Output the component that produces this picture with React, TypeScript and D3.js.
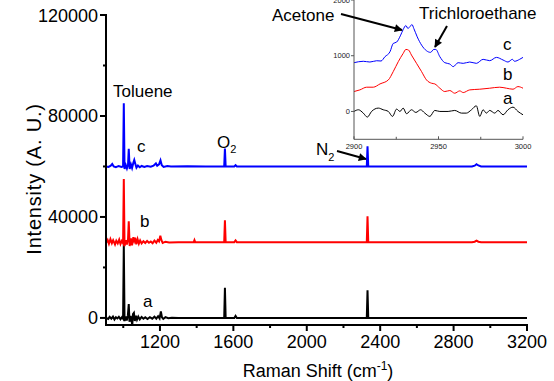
import React from "react";
import * as d3 from "d3";

// ---------- DATA ----------
const seriesLabels = ["a", "b", "c"];
const seriesColors = ["#000000", "#ff0000", "#0000ff"];
const seriesOffsets = [0, 30000, 60000];

const spectrumA: [number, number][] = [
  [906, 0], [918, -400], [926, 400], [935, -300], [944, 500], [952, -600], [960, 300], [968, -200],
  [976, 400], [985, -500], [993, 300], [999, -300], [1003, 29000], [1007, -1200], [1013, 600],
  [1019, -1000], [1025, 900], [1030, 5500], [1034, -1500], [1040, 800], [1045, -800], [1049, -3000],
  [1053, 1500], [1058, 2000], [1063, -1200], [1069, 900], [1075, -700], [1082, 500], [1090, -600],
  [1100, 400], [1110, -300], [1120, 300], [1132, -400], [1145, 300], [1158, -300], [1170, 500],
  [1180, -300], [1190, 700], [1198, -200], [1205, 2600], [1211, 200], [1218, -400], [1230, 300],
  [1245, -100], [1265, 100], [1300, 0], [1400, 0], [1550, 0], [1554, 11900], [1558, 0], [1605, 0],
  [1612, 800], [1619, 0], [1800, 0], [2100, 0], [2327, 0], [2331, 11000], [2335, 0], [2600, 0], [3200, 0],
];

const spectrumB: [number, number][] = [
  [906, -300], [915, 900], [922, -600], [930, 1200], [938, -400], [945, 800], [955, -900], [962, 600],
  [970, -500], [978, 1000], [985, -700], [992, 500], [999, -400], [1003, 25000], [1007, -1500],
  [1014, 800], [1020, -900], [1026, 1200], [1030, 8300], [1035, -1500], [1042, 1500], [1048, -1200],
  [1055, 2000], [1060, 600], [1065, 1800], [1071, -800], [1078, 1200], [1085, -600], [1092, 700],
  [1100, -500], [1110, 400], [1120, -300], [1130, 500], [1140, -200], [1150, 300], [1160, -400],
  [1170, 600], [1180, -200], [1188, 900], [1195, 300], [1202, 2600], [1208, 800], [1215, -300],
  [1230, 200], [1250, -100], [1300, 0], [1384, 0], [1388, 800], [1392, 0], [1500, 0], [1550, 0],
  [1554, 8700], [1558, 0], [1605, 0], [1612, 700], [1619, 0], [1800, 0], [2100, 0], [2327, 0],
  [2331, 10300], [2335, 0], [2600, 0], [2900, 0], [2915, 200], [2925, 650], [2935, 200], [2950, 0], [3200, 0],
];

const spectrumC: [number, number][] = [
  [906, 0], [920, -200], [932, 300], [940, 1000], [948, 0], [960, -300], [975, 200], [990, -200],
  [999, 0], [1003, 25000], [1007, -1000], [1014, 500], [1020, -800], [1026, 700], [1030, 7000],
  [1035, -1000], [1042, 800], [1048, -600], [1055, 1500], [1060, 2600], [1066, 1000], [1072, -500],
  [1080, 400], [1090, -300], [1100, 200], [1115, -200], [1130, 200], [1150, -100], [1165, 300],
  [1178, 1200], [1185, 300], [1195, 800], [1203, 2400], [1210, 500], [1220, -200], [1240, 200],
  [1260, 0], [1350, 100], [1450, 0], [1550, 0], [1554, 7100], [1558, 0], [1605, 0], [1612, 500],
  [1619, 0], [1800, 0], [2100, 0], [2327, 0], [2331, 8000], [2335, 0], [2600, 0], [2900, 0],
  [2915, 300], [2925, 900], [2935, 400], [2950, 0], [3200, 0],
];

const xTicks = [1200, 1600, 2000, 2400, 2800, 3200];
const xMinorTicks = [1000, 1400, 1800, 2200, 2600, 3000];
const yTicks = [0, 40000, 80000, 120000];
const yMinorTicks = [20000, 60000, 100000];

// inset (zoom of 2900-3000 cm-1)
const insetA: [number, number][] = [
  [2900, 0], [2902.6, 30], [2905.5, -30], [2907.9, -101], [2910.4, 0], [2914.4, 60], [2917.3, 30],
  [2920.3, 0], [2922.8, -89], [2925.2, 42], [2927.2, 0], [2929.1, 60], [2931.1, -42], [2934, 30],
  [2936.6, -18], [2939.4, 30], [2941.9, -30], [2944.9, -89], [2947.8, 18], [2950.8, 0], [2955.7, 0],
  [2959.6, 18], [2963.6, -30], [2966.5, -30], [2969.5, 30], [2972.4, 101], [2974.4, -89], [2976.4, 30],
  [2978.3, -30], [2980.3, 18], [2983.3, -30], [2985.2, 18], [2988.2, -60], [2991.1, 30], [2994.1, 77],
  [2997, 0], [3000, -60],
];
const insetB: [number, number][] = [
  [2900, 357], [2903.5, 387], [2907.5, 435], [2911.4, 435], [2915.4, 494], [2920.3, 565], [2923.2, 714],
  [2926.2, 893], [2929.1, 1042], [2930.7, 1113], [2932.3, 1101], [2934, 1012], [2937, 863], [2940, 714],
  [2942.9, 565], [2945.9, 506], [2947.8, 494], [2950.8, 417], [2953.7, 357], [2956.7, 375], [2959.6, 327],
  [2962.6, 369], [2964.6, 339], [2968.5, 387], [2974.4, 399], [2980.3, 417], [2986.2, 435], [2990.2, 417],
  [2994.1, 399], [2997, 446], [3000, 417],
];
const insetC: [number, number][] = [
  [2900, 875], [2905.5, 900], [2909.4, 887], [2913.4, 910], [2916, 905], [2918.3, 982], [2921.3, 1071],
  [2923.2, 1220], [2925.2, 1244], [2927.6, 1369], [2929.1, 1470], [2930.7, 1542], [2931.9, 1488],
  [2933, 1518], [2934.3, 1560], [2935.4, 1488], [2937.4, 1339], [2940, 1190], [2942.9, 1089],
  [2945.3, 1060], [2947.2, 1113], [2948.4, 1113], [2950.8, 982], [2953.7, 875], [2956.7, 851],
  [2958.7, 804], [2961.6, 875], [2964.6, 863], [2968.5, 887], [2972.4, 863], [2976.4, 935],
  [2980.3, 911], [2984.3, 970], [2988.2, 923], [2991.1, 887], [2993.7, 935], [2995, 900], [2998, 935],
  [3000, 970],
];
const insetXTicks = [2900, 2950, 3000];
const insetXMinor = [2925, 2975];
const insetYTicks = [0, 1000, 2000];

// ---------- CHART ----------
const W = 554;
const H = 381;
const FONT = "Arial, 'Liberation Sans', Helvetica, sans-serif";

export default function App() {
  const x = d3.scaleLinear().domain([906, 3200]).range([106, 527]);
  const y = d3.scaleLinear().domain([-2800, 120000]).range([325, 15]);
  const ix = d3.scaleLinear().domain([2900, 3000]).range([354, 523]);
  const iy = d3.scaleLinear().domain([-500, 2000]).range([139.3, 0]);

  const spectra = [spectrumA, spectrumB, spectrumC];
  const insets = [insetA, insetB, insetC];

  const mainLine = (off: number) =>
    d3.line<[number, number]>().x((d) => x(d[0])).y((d) => y(d[1] + off));
  const insetLine = d3
    .line<[number, number]>()
    .x((d) => ix(d[0]))
    .y((d) => iy(d[1]))
    .curve(d3.curveMonotoneX);

  const x0 = x.range()[0];
  const y0 = y.range()[0];

  return (
    <svg width={W} height={H} style={{ position: "absolute", left: 0, top: 0, background: "#fff" }} fontFamily={FONT}>
      <defs>
        <marker id="arr" viewBox="0 0 10 10" refX="9" refY="5" markerWidth="5" markerHeight="4" orient="auto-start-reverse" markerUnits="strokeWidth">
          <path d="M0,0 L10,5 L0,10 z" fill="#000" />
        </marker>
      </defs>

      {/* main spectra */}
      {spectra.map((s, i) => (
        <path key={i} d={mainLine(seriesOffsets[i])(s) || ""} fill="none" stroke={seriesColors[i]} strokeWidth={2} strokeLinejoin="miter" />
      ))}

      {/* axes */}
      <line x1={x0} x2={x0} y1={y(120000) - 1} y2={y0} stroke="#000" strokeWidth={2} />
      <line x1={x0 - 1} x2={x.range()[1] + 1} y1={y0} y2={y0} stroke="#000" strokeWidth={2} />
      {yTicks.map((t) => (
        <g key={t}>
          <line x1={x0 - 6} x2={x0} y1={y(t)} y2={y(t)} stroke="#000" strokeWidth={2} />
          <text x={x0 - 8} y={y(t) + 6.5} fontSize={18} textAnchor="end">{t}</text>
        </g>
      ))}
      {yMinorTicks.map((t) => (
        <line key={t} x1={x0 - 3} x2={x0} y1={y(t)} y2={y(t)} stroke="#000" strokeWidth={2} />
      ))}
      {xTicks.map((t) => (
        <g key={t}>
          <line x1={x(t)} x2={x(t)} y1={y0} y2={y0 + 6} stroke="#000" strokeWidth={2} />
          <text x={x(t)} y={y0 + 23} fontSize={18} textAnchor="middle">{t}</text>
        </g>
      ))}
      {xMinorTicks.map((t) => (
        <line key={t} x1={x(t)} x2={x(t)} y1={y0} y2={y0 + 3} stroke="#000" strokeWidth={2} />
      ))}
      <text x={318} y={377} fontSize={18} textAnchor="middle">
        Raman Shift (cm<tspan dy={-7} fontSize={12}>-1</tspan><tspan dy={7}>)</tspan>
      </text>
      <text transform={`translate(41,179) rotate(-90)`} fontSize={20} letterSpacing={0.8} textAnchor="middle">Intensity (A. U.)</text>

      {/* annotations main */}
      <text x={113} y={97} fontSize={17}>Toluene</text>
      {seriesLabels.map((l, i) => (
        <text key={l} x={[143, 140, 137][i]} y={[307, 227, 152][i]} fontSize={17}>{l}</text>
      ))}
      <text x={217} y={148} fontSize={17}>O<tspan dy={5} fontSize={11}>2</tspan></text>
      <text x={316} y={155} fontSize={17}>N<tspan dy={6} fontSize={11}>2</tspan></text>
      <line x1={337} y1={151} x2={366} y2={159} stroke="#000" strokeWidth={2} markerEnd="url(#arr)" />

      {/* inset */}
      {insets.map((s, i) => (
        <path key={i} d={insetLine(s) || ""} fill="none" stroke={seriesColors[i]} strokeWidth={1} />
      ))}
      <line x1={ix(2900)} x2={ix(2900)} y1={0} y2={iy(-500)} stroke="#555" strokeWidth={1} />
      <line x1={ix(2900)} x2={ix(3000)} y1={iy(-500)} y2={iy(-500)} stroke="#555" strokeWidth={1} />
      {insetYTicks.map((t) => (
        <g key={t}>
          <line x1={ix(2900) - 3} x2={ix(2900)} y1={iy(t)} y2={iy(t)} stroke="#555" strokeWidth={1} />
          <text x={ix(2900) - 4} y={iy(t) + 2.5} fontSize={7.5} textAnchor="end" fill="#222">{t}</text>
        </g>
      ))}
      {insetXTicks.map((t) => (
        <g key={t}>
          <line x1={ix(t)} x2={ix(t)} y1={iy(-500)} y2={iy(-500) - 3} stroke="#555" strokeWidth={1} />
          <text x={ix(t)} y={iy(-500) + 10} fontSize={7.5} textAnchor="middle" fill="#222">{t}</text>
        </g>
      ))}
      {insetXMinor.map((t) => (
        <line key={t} x1={ix(t)} x2={ix(t)} y1={iy(-500)} y2={iy(-500) - 2.5} stroke="#555" strokeWidth={1} />
      ))}
      {seriesLabels.map((l, i) => (
        <text key={l} x={503} y={[104, 80, 50][i]} fontSize={17}>{l}</text>
      ))}
      <text x={272} y={21} fontSize={17}>Acetone</text>
      <line x1={341} y1={14} x2={402} y2={30} stroke="#000" strokeWidth={2} markerEnd="url(#arr)" />
      <text x={419} y={19} fontSize={17}>Trichloroethane</text>
      <line x1={447} y1={26} x2={435} y2={47} stroke="#000" strokeWidth={2} markerEnd="url(#arr)" />
    </svg>
  );
}
